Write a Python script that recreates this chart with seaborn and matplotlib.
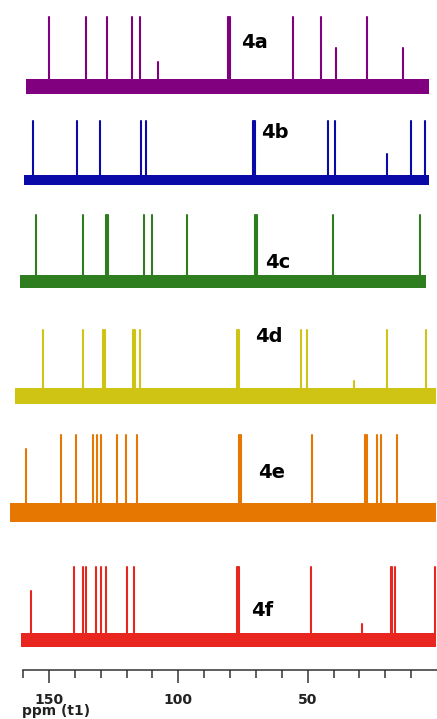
import numpy as np
import pandas as pd
import matplotlib
matplotlib.use("Agg")
import matplotlib.pyplot as plt
import seaborn as sns

# stacked 13C spectra, peak positions in ppm, relative peak heights (1 = clipped at top)
labels = ["4a", "4b", "4c", "4d", "4e", "4f"]

peaks_4a = [149.9, 135.8, 127.7, 117.8, 114.9, 107.8, 80.8, 80.4, 80.0, 55.7, 45.0, 38.9, 26.9, 13.2]
heights_4a = [1, 1, 1, 1, 1, 0.35, 1, 1, 1, 1, 1, 0.55, 1, 0.55]

peaks_4b = [156.1, 139.3, 130.3, 114.5, 112.3, 71.2, 70.8, 70.4, 42.2, 39.6, 19.2, 10.0, 4.8]
heights_4b = [1, 1, 1, 1, 1, 1, 1, 1, 1, 1, 0.44, 1, 1]

peaks_4c = [155.1, 137.0, 127.9, 127.5, 127.1, 113.2, 110.2, 96.8, 70.5, 70.1, 69.7, 40.2, 6.5]
heights_4c = [1, 1, 1, 1, 1, 1, 1, 1, 1, 1, 1, 1, 1]

peaks_4d = [152.4, 137.0, 129.0, 128.6, 128.2, 117.5, 117.1, 116.7, 114.9, 77.2, 76.8, 76.4,
            52.4, 50.3, 31.9, 19.4, 4.2]
heights_4d = [1, 1, 1, 1, 1, 1, 1, 1, 1, 1, 1, 1, 1, 1, 0.23, 1, 1]

peaks_4e = [158.9, 145.4, 139.6, 132.9, 131.6, 129.9, 123.6, 120.3, 116.1, 76.4, 76.0, 75.6,
            48.2, 27.7, 27.3, 26.9, 23.1, 21.8, 15.4]
heights_4e = [0.82, 1, 1, 1, 1, 1, 1, 1, 1, 1, 1, 1, 1, 1, 1, 1, 1, 1, 1]

peaks_4f = [156.9, 140.2, 136.8, 135.7, 131.9, 129.7, 128.0, 119.8, 117.2, 77.2, 76.8, 76.4,
            48.6, 28.9, 17.9, 17.5, 16.4, 0.6]
heights_4f = [0.67, 1, 1, 1, 1, 1, 1, 1, 1, 1, 1, 1, 1, 0.22, 1, 1, 1, 1]

# baseline extent of each trace (ppm)
starts = [158.9, 159.7, 161.2, 163.1, 165.1, 160.8]
ends = [2.9, 2.9, 4.4, 0.2, 0.2, 0.2]

all_peaks = [peaks_4a, peaks_4b, peaks_4c, peaks_4d, peaks_4e, peaks_4f]
all_heights = [heights_4a, heights_4b, heights_4c, heights_4d, heights_4e, heights_4f]

colors = ["#800080", "#0a0aa8", "#2e7d1f", "#cfc414", "#e67700", "#e8251e"]
# layout (in pixel-like units of the axes)
offsets = [584, 490, 389, 274, 158, 30]
scales = [69, 59, 66, 66, 77, 73]
band = [15, 10, 13, 16, 19, 14]
label_pos = [(70.5, 628), (62.7, 538), (61.6, 408), (65.1, 333), (63.9, 197), (67.4, 60)]

rows = []
for i, lab in enumerate(labels):
    for j, (p, h) in enumerate(zip(all_peaks[i], all_heights[i])):
        rows.append({"ppm": p, "y": offsets[i], "trace": lab, "uid": f"{lab}_{j}"})
        rows.append({"ppm": p, "y": offsets[i] + h * scales[i], "trace": lab, "uid": f"{lab}_{j}"})
df = pd.DataFrame(rows)

sns.set_theme(style="white")
fig = plt.figure(figsize=(4.37, 7.19), dpi=100)
ax = fig.add_axes([0, 49 / 719, 1, 670 / 719])

sns.lineplot(data=df, x="ppm", y="y", hue="trace", units="uid", estimator=None, sort=False,
             palette=dict(zip(labels, colors)), linewidth=1.5, legend=False, ax=ax)

for i, lab in enumerate(labels):
    xs = np.array([starts[i], ends[i]])
    ax.fill_between(xs, offsets[i] - band[i] / 2, offsets[i] + band[i] / 2,
                    color=colors[i], linewidth=0)
    ax.text(label_pos[i][0], label_pos[i][1], lab, ha="center", va="center",
            fontsize=14, fontweight="bold", color="black")

ax.set_xlim(168.9, 0)
ax.set_ylim(0, 670)
for s in ["top", "left", "right"]:
    ax.spines[s].set_visible(False)
ax.spines["bottom"].set_bounds(0, 160)
ax.spines["bottom"].set_color("#333333")
ax.spines["bottom"].set_linewidth(1.1)
ax.set_xticks([150, 100, 50])
ax.set_xticks([160, 140, 130, 120, 110, 90, 80, 70, 60, 40, 30, 20, 10], minor=True)
ax.set_xticklabels(["150", "100", "50"], fontweight="bold", fontsize=10, color="#222222")
ax.tick_params(axis="x", which="major", bottom=True, length=9.4, width=1.1, color="#333333", pad=7.5)
ax.tick_params(axis="x", which="minor", bottom=True, length=5.8, width=1.1, color="#333333")
ax.set_yticks([])
ax.set_xlabel("")
ax.set_ylabel("")
fig.text(22 / 437, 1 - 711 / 719, "ppm (t1)", ha="left", va="center",
         fontsize=10, fontweight="bold", color="#222222")

fig.savefig("out.png", dpi=100)
